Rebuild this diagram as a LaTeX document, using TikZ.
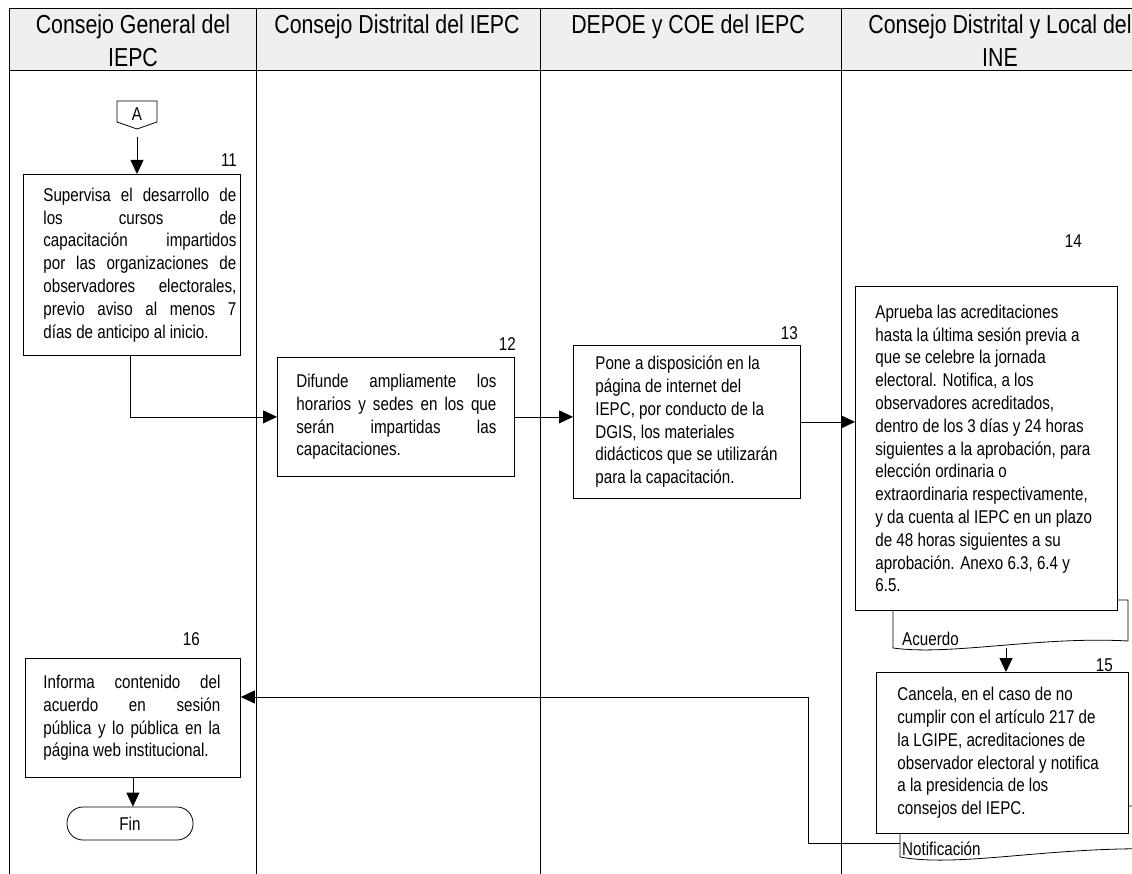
\documentclass[tikz,border=0pt]{standalone}
\usepackage{fontspec}
\setmainfont{Liberation Sans}[FakeStretch=0.82]
\usetikzlibrary{arrows.meta}
\definecolor{hdrgray}{RGB}{239,239,239}
\newcommand\fs{\fontsize{18.5}{22.8}\selectfont}
\newcommand\hfs{\fontsize{26}{30}\selectfont}
\newcommand\jline[1]{\makebox[\linewidth][s]{#1}\par}
\newcommand\rline[1]{\mbox{#1}\par}
\begin{document}
\begin{tikzpicture}[x=1pt,y=-1pt,
  box/.style={draw, fill=white, line width=0.8pt, inner sep=0pt, anchor=north west, font=\fs},
  hdr/.style={font=\hfs, anchor=base, inner sep=0pt},
  lbl/.style={font=\fs, anchor=base east, inner sep=0pt},
  txt/.style={font=\fs, inner sep=0pt},
  arr/.style={line width=0.8pt, -{Triangle[length=14pt,width=13pt]}},
  ln/.style={line width=0.8pt},
  doc/.style={draw, fill=white, line width=0.8pt}]
\useasboundingbox (0,0) rectangle (1132,874);
\begin{scope}
\clip (0,0) rectangle (1132,874);
% header and lanes
\fill[hdrgray] (9,8) rectangle (1140,70);
\draw[ln] (1140,8) -- (9,8) -- (9,874);
\draw[ln] (9,70) -- (1140,70);
\draw[ln] (256,8) -- (256,874);
\draw[ln] (540,8) -- (540,874);
\draw[ln] (841,8) -- (841,874);
\node[hdr] (h1a) at (133,34) {Consejo General del};
\node[hdr] (h1b) at (133,67) {IEPC};
\node[hdr] (h2) at (397,34) {Consejo Distrital del IEPC};
\node[hdr] (h3) at (688,34) {DEPOE y COE del IEPC};
\node[hdr] (h4a) at (1000,34) {Consejo Distrital y Local del};
\node[hdr] (h4b) at (1000,67) {INE};

% off-page connector A
\draw[ln, fill=white] (117,101) -- (157,101) -- (157,122) -- (137,129) -- (117,122) -- cycle;
\node[txt, anchor=base] (conA) at (137,121) {A};
\coordinate (conAs) at (137,129);

% box 11
\node[box, minimum width=217pt, minimum height=181pt] (b11) at (23,174)
 {\hspace*{20pt}\parbox{193pt}{\fs
  \jline{Supervisa el desarrollo de}
  \jline{los cursos de}
  \jline{capacitación impartidos}
  \jline{por las organizaciones de}
  \jline{observadores electorales,}
  \jline{previo aviso al menos 7}
  \rline{días de anticipo al inicio.}}\hspace*{4pt}};
\node[lbl] (l11) at (237,167) {11};

% box 12
\node[box, minimum width=237pt, minimum height=119pt] (b12) at (277,357)
 {\hspace*{19pt}\parbox{200pt}{\fs
  \jline{Difunde ampliamente los}
  \jline{horarios y sedes en los que}
  \jline{serán impartidas las}
  \rline{capacitaciones.}}\hspace*{18pt}};
\node[lbl] (l12) at (516,351) {12};

% box 13
\node[box, minimum width=227pt, minimum height=153pt] (b13) at (573,345)
 {\hspace*{22pt}\parbox{205pt}{\fs
  \rline{Pone a disposición en la}
  \rline{página de internet del}
  \rline{IEPC, por conducto de la}
  \rline{DGIS, los materiales}
  \rline{didácticos que se utilizarán}
  \rline{para la capacitación.}}};
\node[lbl] (l13) at (798,340) {13};

% document Acuerdo (behind box 14)
\draw[doc] (893,600) -- (1128,600) -- (1128,641)
  .. controls (1040,636) and (950,656) .. (893,648) -- cycle;
\node[txt, anchor=base west] (acuerdo) at (902,645) {Acuerdo};
\coordinate (d1s) at (1006,648);

% box 14
\node[box, minimum width=262pt, minimum height=324pt] (b14) at (855,286)
 {\hspace*{20pt}\parbox{242pt}{\fs
  \rline{Aprueba las acreditaciones}
  \rline{hasta la última sesión previa a}
  \rline{que se celebre la jornada}
  \rline{electoral. Notifica, a los}
  \rline{observadores acreditados,}
  \rline{dentro de los 3 días y 24 horas}
  \rline{siguientes a la aprobación, para}
  \rline{elección ordinaria o}
  \rline{extraordinaria respectivamente,}
  \rline{y da cuenta al IEPC en un plazo}
  \rline{de 48 horas siguientes a su}
  \rline{aprobación. Anexo 6.3, 6.4 y}
  \rline{6.5.}}};
\node[lbl] (l14) at (1082,248) {14};

% document Notificación (behind box 15)
\draw[doc] (900,806) -- (1165,806) -- (1165,849)
  .. controls (1050,846) and (960,868) .. (900,857) -- cycle;
\node[txt, anchor=base west] (notif) at (902,855) {Notificación};
\coordinate (d2w) at (900,843);

% box 15
\node[box, minimum width=252pt, minimum height=161pt] (b15) at (876,672)
 {\hspace*{21pt}\parbox{231pt}{\fs
  \rline{Cancela, en el caso de no}
  \rline{cumplir con el artículo 217 de}
  \rline{la LGIPE, acreditaciones de}
  \rline{observador electoral y notifica}
  \rline{a la presidencia de los}
  \rline{consejos del IEPC.}}};
\node[lbl] (l15) at (1113,671) {15};

% box 16
\node[box, minimum width=215pt, minimum height=119pt] (b16) at (25,658)
 {\hspace*{18pt}\parbox{177pt}{\fs
  \jline{Informa contenido del}
  \jline{acuerdo en sesión}
  \jline{pública y lo pública en la}
  \rline{página web institucional.}}\hspace*{20pt}};
\node[lbl] (l16) at (200,645) {16};

% terminator
\node[draw, line width=0.8pt, rounded corners=16pt, minimum width=126pt, minimum height=33pt,
  inner sep=0pt, font=\fs] (fin) at (130,823.5) {Fin};

% connectors
\draw[arr, shorten <=8pt] (conAs) -- (conAs |- b11.north);
\draw[arr] ([xshift=-2pt]b11.south) |- (b12.west);
\draw[arr] (b12.east) -- (b12.east -| b13.west);
\draw[arr] (b13.east) -- (b13.east -| b14.west);
\draw[arr] (d1s) -- (d1s |- b15.north);
\coordinate (bend) at (808,697);
\draw[arr] (d2w) -| (bend) -- (bend -| b16.east);
\draw[arr] (b16.south) -- (b16.south |- fin.north);
\end{scope}
\end{tikzpicture}
\end{document}
